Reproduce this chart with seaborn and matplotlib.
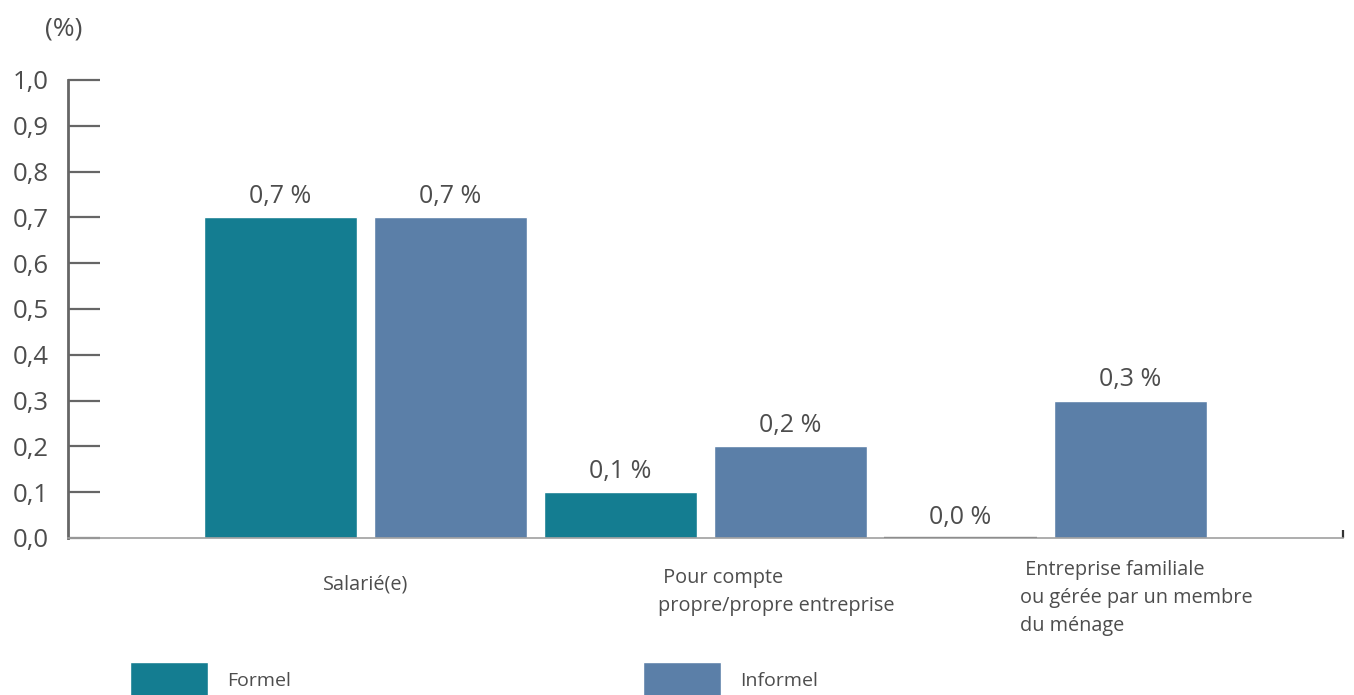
import matplotlib
matplotlib.use("Agg")
import matplotlib.pyplot as plt
from matplotlib.transforms import blended_transform_factory
import seaborn as sns
import pandas as pd

# Data
categories = ["Salarié(e)", "Pour compte\npropre/propre entreprise",
              "Entreprise familiale\nou gérée par un membre\ndu ménage"]
series = ["Formel", "Informel"]
formel = [0.7, 0.1, 0.0]
informel = [0.7, 0.2, 0.3]
y_ticks = [0.0, 0.1, 0.2, 0.3, 0.4, 0.5, 0.6, 0.7, 0.8, 0.9, 1.0]

colors = {"Formel": "#147D91", "Informel": "#5B7FA8"}
text_color = "#4D4D4D"

df = pd.DataFrame({
    "cat": categories * 2,
    "serie": ["Formel"] * 3 + ["Informel"] * 3,
    "val": formel + informel,
})

sns.set_style("white")
plt.rcParams["font.family"] = ["Open Sans", "DejaVu Sans"]

fig = plt.figure(figsize=(13.54, 6.95), dpi=100)
ax = fig.add_axes([0.0502, 0.2259, 0.9417, 0.659])

sns.barplot(data=df, x="cat", y="val", hue="serie", order=categories,
            hue_order=series, palette=colors, width=1.0, gap=0.1,
            saturation=1, errorbar=None, ax=ax)

ax.set_xlim(-0.875, 2.875)
ax.set_ylim(0, 1.0)
ax.set_xlabel("")
ax.set_ylabel("")

# Value labels
for cont in ax.containers:
    labels = [f"{b.get_height():.1f} %".replace(".", ",") for b in cont]
    ax.bar_label(cont, labels=labels, padding=6, fontsize=18, color=text_color)
    for b in cont:
        if b.get_height() == 0:
            b.set_edgecolor("#333333")
            b.set_linewidth(1.6)

# Y axis
ax.set_yticks(y_ticks)
ax.set_yticklabels([f"{t:.1f}".replace(".", ",") for t in y_ticks])
ax.tick_params(axis="y", direction="in", length=23, width=1.6, color="#666666",
               pad=14, labelsize=18.5, labelcolor=text_color, left=True)
for lbl in ax.get_yticklabels():
    lbl.set_va("center_baseline")

# X axis: category text placed under each group
ax.set_xticks([])
ax.set_xticks([2.875], minor=True)
ax.tick_params(axis="x", which="minor", direction="in", length=6, width=1.6,
               color="#333333", bottom=True, labelbottom=False)
trans = blended_transform_factory(ax.transData, ax.transAxes)
cat_fs = 14.3
ax.text(0, -0.08, categories[0], transform=trans, ha="center", va="top",
        fontsize=cat_fs, color=text_color)
ax.text(1 - 0.14, -0.066, " Pour compte\npropre/propre entreprise",
        transform=trans, ha="left", va="top", fontsize=cat_fs, color=text_color,
        linespacing=1.55)
ax.text(2 - 0.076, -0.048, " Entreprise familiale\nou gérée par un membre\ndu ménage",
        transform=trans, ha="left", va="top", fontsize=cat_fs, color=text_color,
        linespacing=1.55)

for s in ["top", "right"]:
    ax.spines[s].set_visible(False)
ax.spines["left"].set_color("#666666")
ax.spines["left"].set_linewidth(2.0)
ax.spines["bottom"].set_color("#A0A0A0")
ax.spines["bottom"].set_linewidth(1.2)

fig.text(0.033, 0.958, "(%)", fontsize=19, color=text_color, va="center")

# Legend
handles, labels = ax.get_legend_handles_labels()
ax.get_legend().remove()
fig.legend(handles, labels, loc="center left", bbox_to_anchor=(0.083, 0.021),
           ncol=2, frameon=False, fontsize=14, handlelength=4.0,
           handleheight=2.6, handletextpad=1.0, columnspacing=18.1,
           labelcolor=text_color)

fig.savefig("out.png", dpi=100, facecolor="white")
